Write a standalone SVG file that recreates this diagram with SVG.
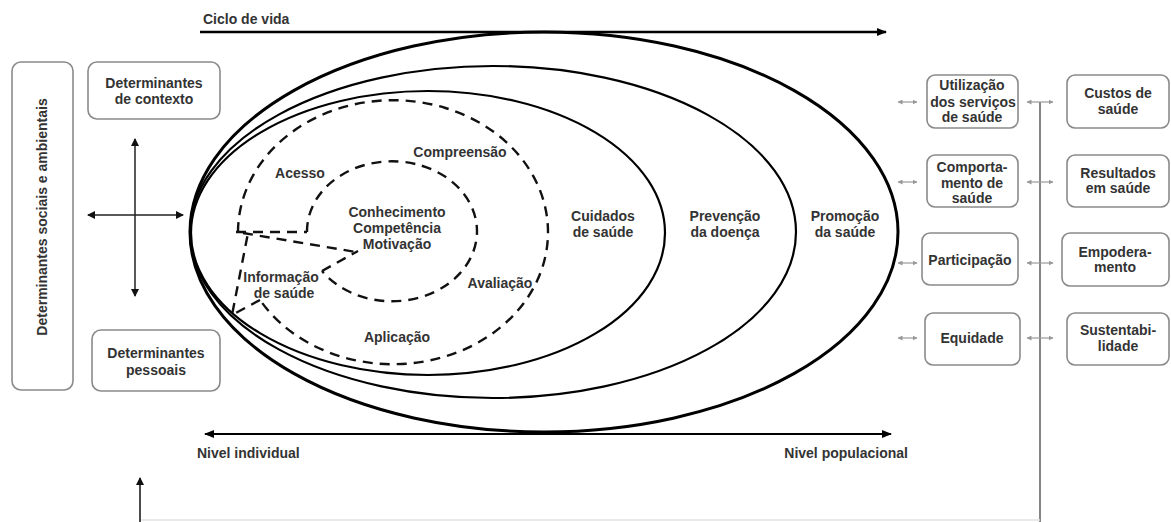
<svg xmlns="http://www.w3.org/2000/svg" width="1171" height="522" viewBox="0 0 1171 522">
<style>
text{font-family:"Liberation Sans",Arial,sans-serif;font-weight:bold;font-size:14px;fill:#333;text-anchor:middle}
.box{fill:#fff;stroke:#8a8a8a;stroke-width:1.6}
.ell{fill:none;stroke:#000;stroke-width:2.2}
.dash{fill:none;stroke:#111;stroke-width:2.4;stroke-dasharray:10 7}
.arr{fill:none;stroke:#000;stroke-width:2}
.thin{fill:none;stroke:#222;stroke-width:1.5}
.sm{fill:none;stroke:#999;stroke-width:1.2}
</style>
<defs>
<marker id="ah" viewBox="0 0 10 8" refX="9" refY="4" markerWidth="10" markerHeight="8" markerUnits="userSpaceOnUse" orient="auto-start-reverse"><path d="M0,0 L10,4 L0,8 z" fill="#000"/></marker>
<marker id="ahs" viewBox="0 0 8 8" refX="7" refY="4" markerWidth="8" markerHeight="8" markerUnits="userSpaceOnUse" orient="auto-start-reverse"><path d="M0,0 L8,4 L0,8 z" fill="#111"/></marker>
<marker id="tiny" viewBox="0 0 5 5" refX="4.5" refY="2.5" markerWidth="5" markerHeight="5" markerUnits="userSpaceOnUse" orient="auto-start-reverse"><path d="M0,0 L5,2.5 L0,5 z" fill="#999"/></marker>
</defs>
<rect width="1171" height="522" fill="#fff"/>

<g id="connectors">
<line class="arr" x1="200" y1="32" x2="886" y2="32" marker-end="url(#ah)" style="stroke-width:2.6"/>
<line class="arr" x1="205" y1="434" x2="891" y2="434" marker-start="url(#ah)" marker-end="url(#ah)"/>
<line class="thin" x1="135" y1="139" x2="135" y2="296" marker-start="url(#ahs)" marker-end="url(#ahs)"/>
<line class="thin" x1="88" y1="215" x2="183" y2="215" marker-start="url(#ahs)" marker-end="url(#ahs)"/>
<line x1="1040" y1="102" x2="1040" y2="522" stroke="#666" stroke-width="1.6"/>
<line x1="140" y1="520" x2="1040" y2="520" stroke="#e2e2e2" stroke-width="1.5"/>
<line x1="140" y1="522" x2="140" y2="478" stroke="#111" stroke-width="1.5" marker-end="url(#ahs)"/>
<line class="sm" x1="898" y1="102" x2="917" y2="102" marker-start="url(#tiny)" marker-end="url(#tiny)"/>
<line class="sm" x1="898" y1="182" x2="917" y2="182" marker-start="url(#tiny)" marker-end="url(#tiny)"/>
<line class="sm" x1="898" y1="263" x2="917" y2="263" marker-start="url(#tiny)" marker-end="url(#tiny)"/>
<line class="sm" x1="898" y1="338" x2="917" y2="338" marker-start="url(#tiny)" marker-end="url(#tiny)"/>
<line class="sm" x1="1027" y1="102" x2="1053" y2="102" marker-start="url(#tiny)" marker-end="url(#tiny)"/>
<line class="sm" x1="1027" y1="182" x2="1053" y2="182" marker-start="url(#tiny)" marker-end="url(#tiny)"/>
<line class="sm" x1="1027" y1="263" x2="1053" y2="263" marker-start="url(#tiny)" marker-end="url(#tiny)"/>
<line class="sm" x1="1027" y1="338" x2="1053" y2="338" marker-start="url(#tiny)" marker-end="url(#tiny)"/>
</g>

<g id="ellipses">
<ellipse class="ell" cx="544" cy="232" rx="354" ry="200" style="stroke-width:3"/>
<ellipse class="ell" cx="493" cy="232" rx="303" ry="166"/>
<ellipse class="ell" cx="428" cy="233" rx="237" ry="142"/>
</g>

<g id="dashed">
<path class="dash" d="M238,232 A155,132 0 1 1 260,300"/>
<path class="dash" d="M260,300 L232,315 L248,233"/>
<path class="dash" d="M236,232 L307,232"/>
<path class="dash" d="M307,232 A85,70 0 1 1 322,271"/>
<path class="dash" d="M322,271 L358,251"/>
<path class="dash" d="M243,233 L356,252"/>
</g>

<g id="n-sociais"><rect class="box" x="12" y="62" width="61" height="328" rx="9"/>
<text transform="translate(42,217) rotate(-90)" dominant-baseline="central">Determinantes sociais e ambientais</text></g>
<g id="n-contexto"><rect class="box" x="88" y="62" width="132" height="57" rx="9"/>
<text x="154" y="88">Determinantes</text><text x="154" y="104">de contexto</text></g>
<g id="n-pessoais"><rect class="box" x="92" y="330" width="128" height="61" rx="9"/>
<text x="156" y="358">Determinantes</text><text x="156" y="375">pessoais</text></g>

<g id="labels">
<text x="203" y="24" style="text-anchor:start">Ciclo de vida</text>
<text x="197" y="458" style="text-anchor:start">Nivel individual</text>
<text x="908" y="458" style="text-anchor:end">Nivel populacional</text>
<text x="300" y="178">Acesso</text>
<text x="460" y="157">Compreensão</text>
<text x="397" y="217">Conhecimento</text>
<text x="397" y="233">Competência</text>
<text x="397" y="249">Motivação</text>
<text x="281" y="282">Informação</text>
<text x="284" y="298">de saúde</text>
<text x="500" y="288">Avaliação</text>
<text x="397" y="342">Aplicação</text>
<text x="603" y="221">Cuidados</text><text x="603" y="237">de saúde</text>
<text x="725" y="221">Prevenção</text><text x="725" y="237">da doença</text>
<text x="845" y="221">Promoção</text><text x="845" y="237">da saúde</text>
</g>

<g id="n-utilizacao"><rect class="box" x="927" y="75" width="91" height="53" rx="8"/>
<text x="972" y="90">Utilização</text><text x="973" y="107">dos serviços</text><text x="972" y="122">de saúde</text></g>
<g id="n-comportamento"><rect class="box" x="927" y="155" width="91" height="52" rx="8"/>
<text x="972" y="172">Comporta-</text><text x="972" y="188">mento de</text><text x="972" y="203">saúde</text></g>
<g id="n-participacao"><rect class="box" x="922" y="233" width="96" height="52" rx="8"/>
<text x="970" y="265">Participação</text></g>
<g id="n-equidade"><rect class="box" x="925" y="313" width="95" height="52" rx="8"/>
<text x="972" y="343">Equidade</text></g>
<g id="n-custos"><rect class="box" x="1067" y="75" width="102" height="53" rx="8"/>
<text x="1118" y="98">Custos de</text><text x="1118" y="114">saúde</text></g>
<g id="n-resultados"><rect class="box" x="1067" y="155" width="102" height="52" rx="8"/>
<text x="1118" y="178">Resultados</text><text x="1118" y="193">em saúde</text></g>
<g id="n-empoderamento"><rect class="box" x="1062" y="233" width="107" height="53" rx="8"/>
<text x="1115" y="257">Empodera-</text><text x="1115" y="272">mento</text></g>
<g id="n-sustentabilidade"><rect class="box" x="1067" y="313" width="102" height="52" rx="8"/>
<text x="1118" y="335">Sustentabi-</text><text x="1118" y="351">lidade</text></g>
</svg>
